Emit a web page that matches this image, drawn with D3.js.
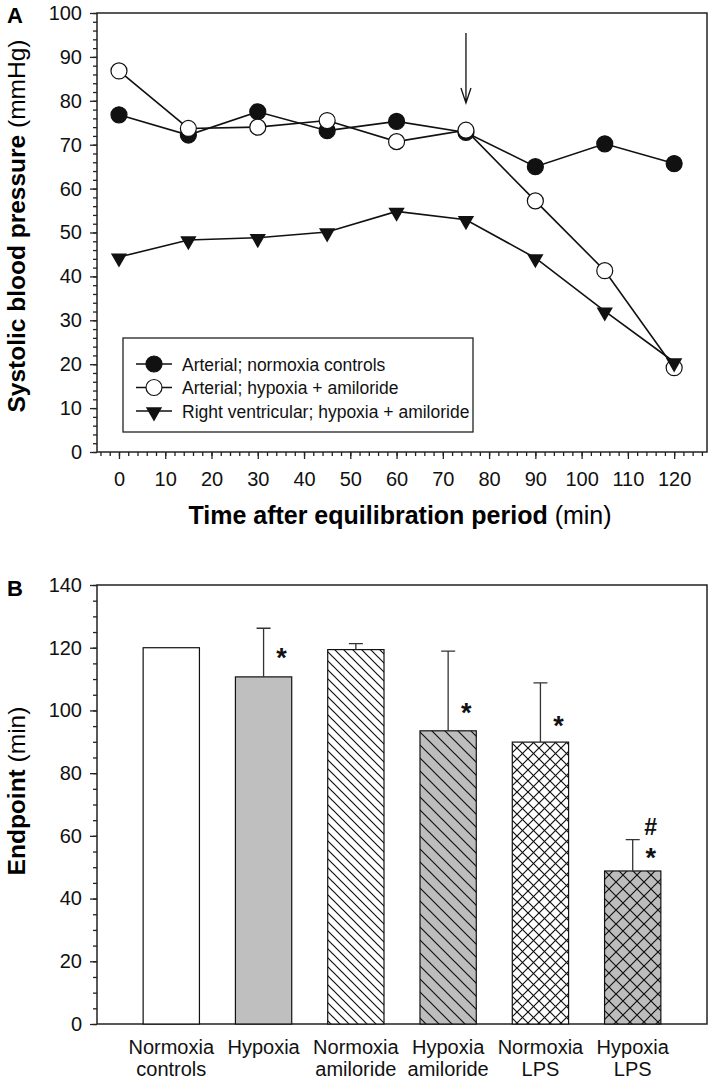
<!DOCTYPE html>
<html>
<head>
<meta charset="utf-8">
<script src="https://cdn.jsdelivr.net/npm/d3@7"></script>
<style>
  body { margin: 0; background: #fff; }
  svg { display: block; font-family: "Liberation Sans", Arial, sans-serif; }
  .tick text { font-size: 20px; fill: #111; }
  .axis path, .axis line { stroke: #222; stroke-width: 1.3; }
</style>
</head>
<body>
<div id="chart"></div>
<script>
// panel A data
var timePoints = [0, 15, 30, 45, 60, 75, 90, 105, 120];
var arterialNormoxia = [76.8, 72.2, 77.5, 73.2, 75.3, 72.8, 65.0, 70.2, 65.7];
var arterialHypoxiaAmil = [86.8, 73.7, 74.0, 75.5, 70.7, 73.3, 57.2, 41.3, 19.2];
var rvHypoxiaAmil = [44.4, 48.3, 48.8, 50.1, 54.8, 52.9, 44.2, 32.1, 20.5];
var seriesNames = ["Arterial; normoxia controls", "Arterial; hypoxia + amiloride", "Right ventricular; hypoxia + amiloride"];
var arrowTime = 75;

// panel B data
var groups = [["Normoxia", "controls"], ["Hypoxia"], ["Normoxia", "amiloride"], ["Hypoxia", "amiloride"], ["Normoxia", "LPS"], ["Hypoxia", "LPS"]];
var endpointMean = [120, 110.7, 119.4, 93.5, 89.9, 48.8];
var endpointErr = [null, 126.2, 121.3, 118.9, 108.8, 58.8];
// significance marks and the level (min) they sit at
var marks = [[], ["*"], [], ["*"], ["*"], ["#", "*"]];
var markLevel = [null, 118.5, null, 101, 97, 55];

var W = 709, H = 1083;
var svg = d3.select("#chart").append("svg").attr("width", W).attr("height", H);

var defs = svg.append("defs");
function hatch(id, size, bg, cross) {
  var p = defs.append("pattern").attr("id", id)
    .attr("patternUnits", "userSpaceOnUse")
    .attr("width", size).attr("height", size);
  p.append("rect").attr("width", size).attr("height", size).attr("fill", bg);
  var d = "M0,0L" + size + "," + size + "M" + (-size) + ",0L" + size + "," + (2 * size) + "M0," + (-size) + "L" + (2 * size) + "," + size;
  p.append("path").attr("d", d).attr("stroke", "#111").attr("stroke-width", 1.2);
  if (cross) {
    var d2 = "M0," + size + "L" + size + ",0M" + (-size) + "," + size + "L" + size + "," + (-size) + "M0," + (2 * size) + "L" + (2 * size) + ",0";
    p.append("path").attr("d", d2).attr("stroke", "#111").attr("stroke-width", 1.2);
  }
}
hatch("h1", 9, "#fff", false);
hatch("h2", 13, "#bdbdbd", false);
hatch("c1", 11, "#fff", true);
hatch("c2", 14, "#bdbdbd", true);
var fills = ["#fff", "#bfbfbf", "url(#h1)", "url(#h2)", "url(#c1)", "url(#c2)"];

// ---------- Panel A ----------
var ax = {left: 97, right: 707, top: 13, bottom: 452};
var x = d3.scaleLinear().domain([-4.75, 127.1]).range([ax.left, ax.right]);
var y = d3.scaleLinear().domain([0, 100]).range([ax.bottom, ax.top]);

var gA = svg.append("g");
gA.append("rect").attr("x", ax.left).attr("y", ax.top)
  .attr("width", ax.right - ax.left).attr("height", ax.bottom - ax.top)
  .attr("fill", "none").attr("stroke", "#222").attr("stroke-width", 1.5);

gA.append("g").attr("class", "axis").attr("transform", "translate(0," + ax.bottom + ")")
  .call(d3.axisBottom(x).tickValues(d3.range(-4, 127, 2)).tickSize(4).tickFormat("").tickSizeOuter(0))
  .select(".domain").remove();
gA.append("g").attr("class", "axis").attr("transform", "translate(0," + ax.bottom + ")")
  .call(d3.axisBottom(x).tickValues(d3.range(0, 121, 10)).tickSize(7).tickPadding(13).tickSizeOuter(0))
  .select(".domain").remove();
gA.append("g").attr("class", "axis").attr("transform", "translate(" + ax.left + ",0)")
  .call(d3.axisLeft(y).tickValues(d3.range(0, 101, 2)).tickSize(4).tickFormat("").tickSizeOuter(0))
  .select(".domain").remove();
gA.append("g").attr("class", "axis").attr("transform", "translate(" + ax.left + ",0)")
  .call(d3.axisLeft(y).ticks(10).tickSize(7).tickPadding(8).tickSizeOuter(0))
  .select(".domain").remove();

var xt = gA.append("text").attr("x", 400).attr("y", 524).attr("text-anchor", "middle").style("font-size", "25px");
xt.append("tspan").style("font-weight", "bold").text("Time after equilibration period");
xt.append("tspan").text(" (min)");

var yt = gA.append("text").attr("transform", "translate(25,226) rotate(-90)").attr("text-anchor", "middle").style("font-size", "24.5px");
yt.append("tspan").style("font-weight", "bold").text("Systolic blood pressure");
yt.append("tspan").text(" (mmHg)");

gA.append("text").attr("x", 7).attr("y", 23).style("font-size", "22px").style("font-weight", "bold").text("A");

// arrow
var axX = x(arrowTime);
gA.append("path").attr("d", "M" + axX + ",33V103M" + (axX - 5) + ",88L" + axX + ",103L" + (axX + 5) + ",88")
  .attr("fill", "none").attr("stroke", "#111").attr("stroke-width", 1.3);

var line = d3.line().x(function(d) { return x(d[0]); }).y(function(d) { return y(d[1]); });
var tri = d3.symbol().type(d3.symbolTriangle).size(115);

var series = [
  {vals: arterialNormoxia, sym: "filled"},
  {vals: arterialHypoxiaAmil, sym: "open"},
  {vals: rvHypoxiaAmil, sym: "tri"}
];
series.forEach(function(s) {
  var pts = timePoints.map(function(t, i) { return [t, s.vals[i]]; });
  gA.append("path").datum(pts).attr("d", line).attr("fill", "none").attr("stroke", "#111").attr("stroke-width", 1.6);
});
series.forEach(function(s) {
  var pts = timePoints.map(function(t, i) { return [t, s.vals[i]]; });
  drawMarks(gA, pts, s.sym, x, y);
});

function drawMarks(g, pts, sym, xs, ys) {
  if (sym === "tri") {
    g.selectAll(null).data(pts).enter().append("path")
      .attr("d", tri)
      .attr("transform", function(d) { return "translate(" + xs(d[0]) + "," + (ys(d[1]) + 1) + ") rotate(180)"; })
      .attr("fill", "#111");
  } else {
    g.selectAll(null).data(pts).enter().append("circle")
      .attr("cx", function(d) { return xs(d[0]); })
      .attr("cy", function(d) { return ys(d[1]); })
      .attr("r", 8)
      .attr("fill", sym === "filled" ? "#111" : "#fff")
      .attr("stroke", "#111").attr("stroke-width", 1.2);
  }
}

// legend
var lg = gA.append("g");
lg.append("rect").attr("x", 123).attr("y", 338).attr("width", 350).attr("height", 94)
  .attr("fill", "#fff").attr("stroke", "#222").attr("stroke-width", 1.3);
var legSyms = ["filled", "open", "tri"];
seriesNames.forEach(function(n, i) {
  var ly = 364 + i * 23.5;
  lg.append("line").attr("x1", 136).attr("x2", 172).attr("y1", ly).attr("y2", ly).attr("stroke", "#111").attr("stroke-width", 1.6);
  if (legSyms[i] === "tri") {
    lg.append("path").attr("d", tri).attr("transform", "translate(154," + (ly + 1) + ") rotate(180)").attr("fill", "#111");
  } else {
    lg.append("circle").attr("cx", 154).attr("cy", ly).attr("r", 8)
      .attr("fill", legSyms[i] === "filled" ? "#111" : "#fff").attr("stroke", "#111").attr("stroke-width", 1.2);
  }
  lg.append("text").attr("x", 182).attr("y", ly + 6.5).style("font-size", "17.5px").attr("fill", "#111").text(n);
});

// ---------- Panel B ----------
var bx = {left: 97, right: 707, top: 585, bottom: 1024};
var xb = d3.scaleBand().domain(d3.range(groups.length)).range([bx.left, bx.right]).paddingInner(0.39).paddingOuter(0.5);
var yb = d3.scaleLinear().domain([0, 140]).range([bx.bottom, bx.top]);

var gB = svg.append("g");
gB.append("rect").attr("x", bx.left).attr("y", bx.top)
  .attr("width", bx.right - bx.left).attr("height", bx.bottom - bx.top)
  .attr("fill", "none").attr("stroke", "#222").attr("stroke-width", 1.5);

gB.append("g").attr("class", "axis").attr("transform", "translate(" + bx.left + ",0)")
  .call(d3.axisLeft(yb).tickValues(d3.range(0, 141, 5)).tickSize(4).tickFormat("").tickSizeOuter(0))
  .select(".domain").remove();
gB.append("g").attr("class", "axis").attr("transform", "translate(" + bx.left + ",0)")
  .call(d3.axisLeft(yb).tickValues(d3.range(0, 141, 20)).tickSize(7).tickPadding(8).tickSizeOuter(0))
  .select(".domain").remove();

gB.selectAll("rect.bar").data(endpointMean).enter().append("rect").attr("class", "bar")
  .attr("x", function(d, i) { return xb(i); })
  .attr("y", function(d) { return yb(d); })
  .attr("width", xb.bandwidth())
  .attr("height", function(d) { return yb(0) - yb(d); })
  .attr("fill", function(d, i) { return fills[i]; })
  .attr("stroke", "#111").attr("stroke-width", 1.2);

endpointErr.forEach(function(e, i) {
  if (e == null) return;
  var cx = xb(i) + xb.bandwidth() / 2;
  gB.append("path").attr("d", "M" + cx + "," + yb(endpointMean[i]) + "V" + yb(e) + "M" + (cx - 7) + "," + yb(e) + "H" + (cx + 7))
    .attr("fill", "none").attr("stroke", "#333").attr("stroke-width", 1.3);
});

marks.forEach(function(m, i) {
  if (!m.length) return;
  var mx = xb(i) + xb.bandwidth() / 2 + 18;
  var base = yb(markLevel[i]);
  m.slice().reverse().forEach(function(s, k) {
    var star = s === "*";
    gB.append("text").attr("x", mx)
      .attr("y", base - k * 25 + (star ? 15 : 8))
      .attr("text-anchor", "middle").style("font-size", star ? "27px" : "23px").style("font-weight", "bold")
      .attr("fill", "#111").text(s);
  });
});

groups.forEach(function(lbl, i) {
  var t = gB.append("text").attr("text-anchor", "middle").style("font-size", "20px").attr("fill", "#111");
  lbl.forEach(function(s, k) {
    t.append("tspan").attr("x", xb(i) + xb.bandwidth() / 2).attr("y", 1054 + k * 22).text(s);
  });
});

var ybt = gB.append("text").attr("transform", "translate(25,791) rotate(-90)").attr("text-anchor", "middle").style("font-size", "24.5px");
ybt.append("tspan").style("font-weight", "bold").text("Endpoint");
ybt.append("tspan").text(" (min)");

gB.append("text").attr("x", 7).attr("y", 596).style("font-size", "22px").style("font-weight", "bold").text("B");
</script>
</body>
</html>
